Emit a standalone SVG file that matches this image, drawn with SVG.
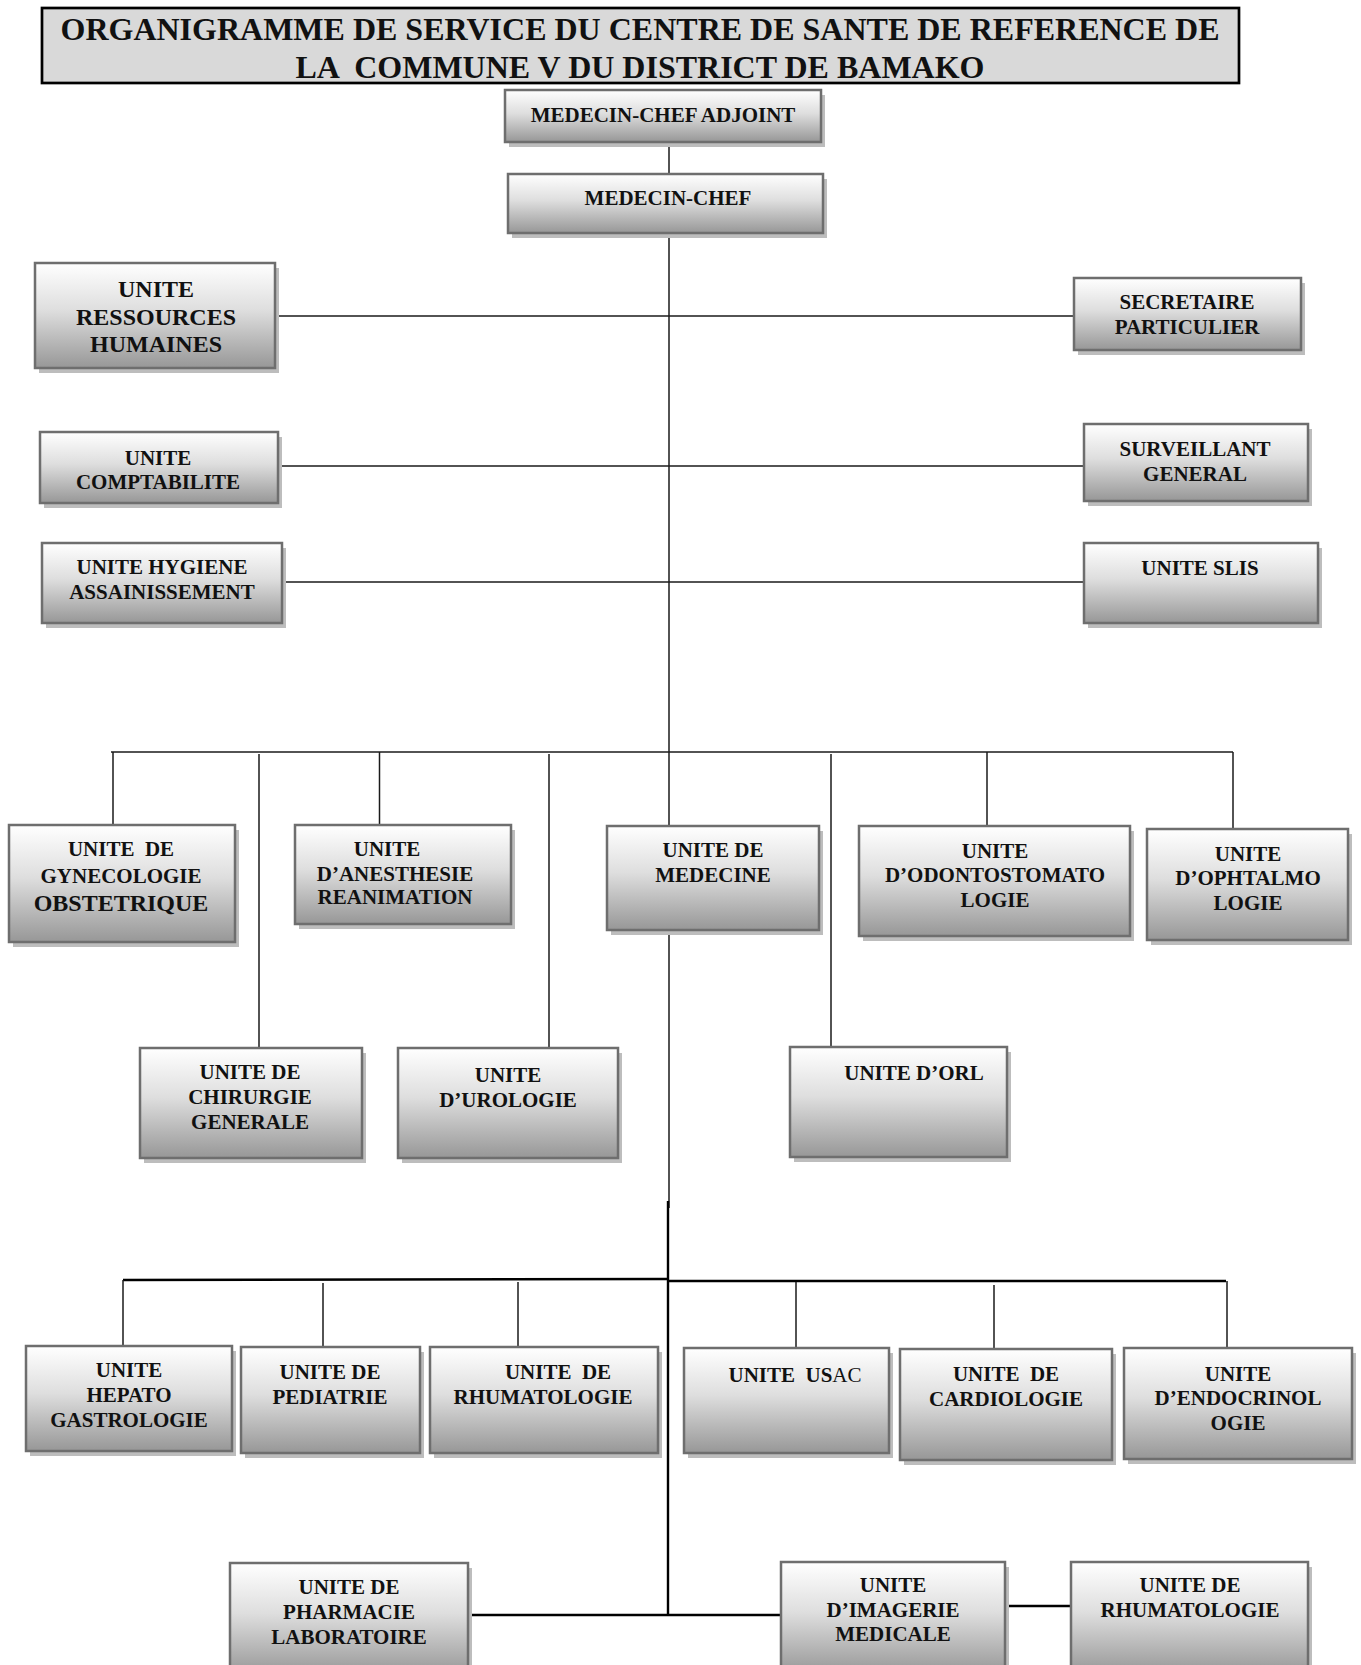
<svg xmlns="http://www.w3.org/2000/svg" width="1361" height="1665" viewBox="0 0 1361 1665">
<defs>
<linearGradient id="g" x1="0" y1="0" x2="0" y2="1">
<stop offset="0" stop-color="#ffffff"/>
<stop offset="0.45" stop-color="#dedede"/>
<stop offset="1" stop-color="#979797"/>
</linearGradient>
</defs>
<style>
.box{fill:url(#g);stroke:#6e6e6e;stroke-width:2.5}
.sh{fill:#bdbdbd}
.t{font-family:"Liberation Serif","Times New Roman",serif;font-weight:bold;font-size:21px;text-anchor:middle;fill:#111}
.big{font-size:24px}
.ttl{font-family:"Liberation Serif","Times New Roman",serif;font-weight:bold;font-size:32px;text-anchor:middle;fill:#111}
.c{stroke:#1a1a1a;stroke-width:1.5;fill:none}
.c2{stroke:#000;stroke-width:2.4;fill:none}
</style>
<rect width="1361" height="1665" fill="#fff"/>

<g id="title">
<rect x="42" y="8" width="1197" height="75" fill="#d9d9d9" stroke="#000" stroke-width="2.7"/>
<text class="ttl" x="640" y="40">ORGANIGRAMME DE SERVICE DU CENTRE DE SANTE DE REFERENCE DE</text>
<text class="ttl" x="640" y="78" xml:space="preserve">LA  COMMUNE V DU DISTRICT DE BAMAKO</text>
</g>

<g id="connectors">
<line class="c" x1="669" y1="142" x2="669" y2="174"/>
<line class="c" x1="669" y1="234" x2="669" y2="826"/>
<line class="c" x1="275" y1="316" x2="1074" y2="316"/>
<line class="c" x1="278" y1="466" x2="1084" y2="466"/>
<line class="c" x1="282" y1="582" x2="1084" y2="582"/>
<line class="c" x1="111" y1="752" x2="1233" y2="752"/>
<line class="c" x1="113" y1="752" x2="113" y2="825"/>
<line class="c" x1="259" y1="754" x2="259" y2="1048"/>
<line class="c" x1="379.5" y1="752" x2="379.5" y2="825"/>
<line class="c" x1="549" y1="754" x2="549" y2="1048"/>
<line class="c" x1="831" y1="754" x2="831" y2="1047"/>
<line class="c" x1="987" y1="752" x2="987" y2="826"/>
<line class="c" x1="1233" y1="752" x2="1233" y2="836"/>
<line class="c" x1="669" y1="930" x2="669" y2="1208"/>
<line class="c2" x1="668" y1="1201" x2="668" y2="1615"/>
<line class="c2" x1="123" y1="1280" x2="667" y2="1279"/>
<line class="c2" x1="668" y1="1281" x2="1226" y2="1281"/>
<line class="c" x1="123" y1="1280" x2="123" y2="1346"/>
<line class="c" x1="323" y1="1283" x2="323" y2="1347"/>
<line class="c" x1="518" y1="1282" x2="518" y2="1347"/>
<line class="c" x1="796" y1="1282" x2="796" y2="1348"/>
<line class="c" x1="994" y1="1285" x2="994" y2="1349"/>
<line class="c" x1="1227" y1="1281" x2="1227" y2="1348"/>
<line class="c2" x1="468" y1="1615" x2="781" y2="1615"/>
<line class="c2" x1="1005" y1="1606" x2="1071" y2="1606"/>
</g>

<g id="n-adjoint">
<rect class="sh" x="509" y="95" width="316" height="52"/>
<rect class="box" x="505" y="90" width="316" height="52"/>
<text class="t" x="663" y="122">MEDECIN-CHEF ADJOINT</text>
</g>
<g id="n-chef">
<rect class="sh" x="512" y="179" width="315" height="59"/>
<rect class="box" x="508" y="174" width="315" height="59"/>
<text class="t" x="668" y="205">MEDECIN-CHEF</text>
</g>
<g id="n-rh">
<rect class="sh" x="39" y="268" width="240" height="105"/>
<rect class="box" x="35" y="263" width="240" height="105"/>
<text class="t big" x="156" y="297">UNITE</text>
<text class="t big" x="156" y="325">RESSOURCES</text>
<text class="t big" x="156" y="352">HUMAINES</text>
</g>
<g id="n-secretaire">
<rect class="sh" x="1078" y="283" width="227" height="72"/>
<rect class="box" x="1074" y="278" width="227" height="72"/>
<text class="t" x="1187" y="309">SECRETAIRE</text>
<text class="t" x="1187" y="334">PARTICULIER</text>
</g>
<g id="n-compta">
<rect class="sh" x="44" y="437" width="238" height="71"/>
<rect class="box" x="40" y="432" width="238" height="71"/>
<text class="t" x="158" y="465">UNITE</text>
<text class="t" x="158" y="489">COMPTABILITE</text>
</g>
<g id="n-surveillant">
<rect class="sh" x="1088" y="429" width="224" height="77"/>
<rect class="box" x="1084" y="424" width="224" height="77"/>
<text class="t" x="1195" y="456">SURVEILLANT</text>
<text class="t" x="1195" y="481">GENERAL</text>
</g>
<g id="n-hygiene">
<rect class="sh" x="46" y="548" width="240" height="80"/>
<rect class="box" x="42" y="543" width="240" height="80"/>
<text class="t" x="162" y="574">UNITE HYGIENE</text>
<text class="t" x="162" y="599">ASSAINISSEMENT</text>
</g>
<g id="n-slis">
<rect class="sh" x="1088" y="548" width="234" height="80"/>
<rect class="box" x="1084" y="543" width="234" height="80"/>
<text class="t" x="1200" y="575">UNITE SLIS</text>
</g>

<g id="n-gyneco">
<rect class="sh" x="13" y="830" width="226" height="117"/>
<rect class="box" x="9" y="825" width="226" height="117"/>
<text class="t" x="121" y="856" xml:space="preserve">UNITE  DE</text>
<text class="t" x="121" y="883">GYNECOLOGIE</text>
<text class="t big" x="121" y="911">OBSTETRIQUE</text>
</g>
<g id="n-anesthesie">
<rect class="sh" x="299" y="830" width="216" height="99"/>
<rect class="box" x="295" y="825" width="216" height="99"/>
<text class="t" x="387" y="856">UNITE</text>
<text class="t" x="395" y="881">D’ANESTHESIE</text>
<text class="t" x="395" y="904">REANIMATION</text>
</g>
<g id="n-medecine">
<rect class="sh" x="611" y="831" width="212" height="104"/>
<rect class="box" x="607" y="826" width="212" height="104"/>
<text class="t" x="713" y="857">UNITE DE</text>
<text class="t" x="713" y="882">MEDECINE</text>
</g>
<g id="n-odonto">
<rect class="sh" x="863" y="831" width="271" height="110"/>
<rect class="box" x="859" y="826" width="271" height="110"/>
<text class="t" x="995" y="858">UNITE</text>
<text class="t" x="995" y="882">D’ODONTOSTOMATO</text>
<text class="t" x="995" y="907">LOGIE</text>
</g>
<g id="n-ophtalmo">
<rect class="sh" x="1151" y="834" width="201" height="111"/>
<rect class="box" x="1147" y="829" width="201" height="111"/>
<text class="t" x="1248" y="861">UNITE</text>
<text class="t" x="1248" y="885">D’OPHTALMO</text>
<text class="t" x="1248" y="910">LOGIE</text>
</g>
<g id="n-chirurgie">
<rect class="sh" x="144" y="1053" width="222" height="110"/>
<rect class="box" x="140" y="1048" width="222" height="110"/>
<text class="t" x="250" y="1079">UNITE DE</text>
<text class="t" x="250" y="1104">CHIRURGIE</text>
<text class="t" x="250" y="1129">GENERALE</text>
</g>
<g id="n-urologie">
<rect class="sh" x="402" y="1053" width="220" height="110"/>
<rect class="box" x="398" y="1048" width="220" height="110"/>
<text class="t" x="508" y="1082">UNITE</text>
<text class="t" x="508" y="1107">D’UROLOGIE</text>
</g>
<g id="n-orl">
<rect class="sh" x="794" y="1052" width="217" height="110"/>
<rect class="box" x="790" y="1047" width="217" height="110"/>
<text class="t" x="914" y="1080">UNITE D’ORL</text>
</g>

<g id="n-hepato">
<rect class="sh" x="30" y="1351" width="206" height="105"/>
<rect class="box" x="26" y="1346" width="206" height="105"/>
<text class="t" x="129" y="1377">UNITE</text>
<text class="t" x="129" y="1402">HEPATO</text>
<text class="t" x="129" y="1427">GASTROLOGIE</text>
</g>
<g id="n-pediatrie">
<rect class="sh" x="245" y="1352" width="179" height="106"/>
<rect class="box" x="241" y="1347" width="179" height="106"/>
<text class="t" x="330" y="1379">UNITE DE</text>
<text class="t" x="330" y="1404">PEDIATRIE</text>
</g>
<g id="n-rhumato1">
<rect class="sh" x="434" y="1352" width="228" height="106"/>
<rect class="box" x="430" y="1347" width="228" height="106"/>
<text class="t" x="558" y="1379" xml:space="preserve">UNITE  DE</text>
<text class="t" x="543" y="1404">RHUMATOLOGIE</text>
</g>
<g id="n-usac">
<rect class="sh" x="688" y="1353" width="205" height="105"/>
<rect class="box" x="684" y="1348" width="205" height="105"/>
<text class="t" x="795" y="1382" xml:space="preserve">UNITE  US<tspan font-weight="normal">AC</tspan></text>
</g>
<g id="n-cardio">
<rect class="sh" x="904" y="1354" width="212" height="111"/>
<rect class="box" x="900" y="1349" width="212" height="111"/>
<text class="t" x="1006" y="1381" xml:space="preserve">UNITE  DE</text>
<text class="t" x="1006" y="1406">CARDIOLOGIE</text>
</g>
<g id="n-endocrino">
<rect class="sh" x="1128" y="1353" width="228" height="111"/>
<rect class="box" x="1124" y="1348" width="228" height="111"/>
<text class="t" x="1238" y="1381">UNITE</text>
<text class="t" x="1238" y="1405">D’ENDOCRINOL</text>
<text class="t" x="1238" y="1430">OGIE</text>
</g>

<g id="n-pharmacie">
<rect class="sh" x="234" y="1568" width="238" height="112"/>
<rect class="box" x="230" y="1563" width="238" height="112"/>
<text class="t" x="349" y="1594">UNITE DE</text>
<text class="t" x="349" y="1619">PHARMACIE</text>
<text class="t" x="349" y="1644">LABORATOIRE</text>
</g>
<g id="n-imagerie">
<rect class="sh" x="785" y="1567" width="224" height="112"/>
<rect class="box" x="781" y="1562" width="224" height="112"/>
<text class="t" x="893" y="1592">UNITE</text>
<text class="t" x="893" y="1617">D’IMAGERIE</text>
<text class="t" x="893" y="1641">MEDICALE</text>
</g>
<g id="n-rhumato2">
<rect class="sh" x="1075" y="1567" width="237" height="112"/>
<rect class="box" x="1071" y="1562" width="237" height="112"/>
<text class="t" x="1190" y="1592">UNITE DE</text>
<text class="t" x="1190" y="1617">RHUMATOLOGIE</text>
</g>
</svg>
